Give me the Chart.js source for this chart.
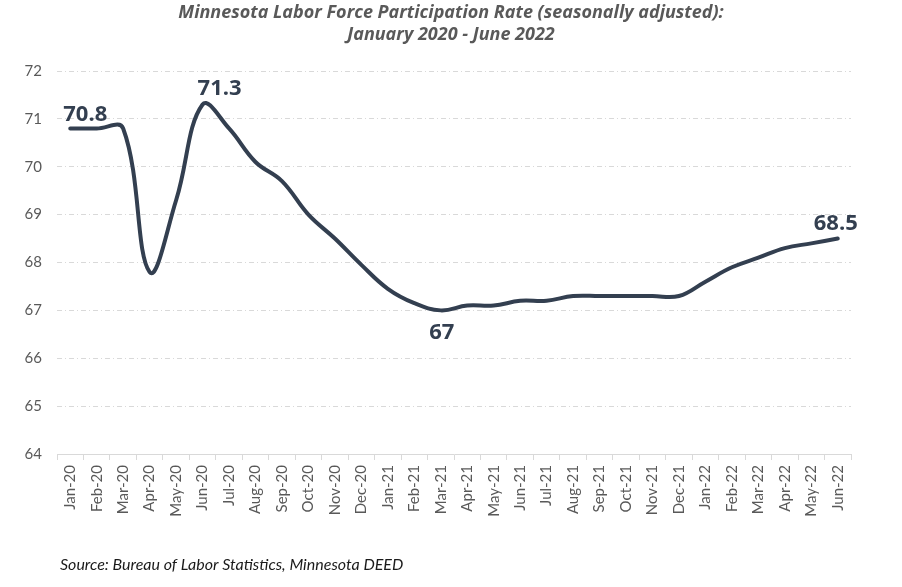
<!DOCTYPE html>
<html>
<head>
<meta charset="utf-8">
<script src="https://cdn.jsdelivr.net/npm/chart.js@4"></script>
<style>
html,body{margin:0;padding:0;background:#fff;}
#wrap{width:902px;height:587px;position:relative;}
</style>
</head>
<body>
<div id="wrap"><canvas id="c" width="902" height="587"></canvas></div>
<script>
const categories = ["Jan-20","Feb-20","Mar-20","Apr-20","May-20","Jun-20","Jul-20","Aug-20","Sep-20","Oct-20","Nov-20","Dec-20",
  "Jan-21","Feb-21","Mar-21","Apr-21","May-21","Jun-21","Jul-21","Aug-21","Sep-21","Oct-21","Nov-21","Dec-21",
  "Jan-22","Feb-22","Mar-22","Apr-22","May-22","Jun-22"];
const participationRate = [70.8,70.8,70.8,67.8,69.3,71.3,70.8,70.1,69.7,69.0,68.5,67.95,
  67.45,67.15,67.0,67.1,67.1,67.2,67.2,67.3,67.3,67.3,67.3,67.3,
  67.6,67.9,68.1,68.3,68.4,68.5];
const yTicks = [64,65,66,67,68,69,70,71,72];
const labeledIdx = [0,5,14,29];
const titleLines = ["Minnesota Labor Force Participation Rate (seasonally adjusted):","January 2020 - June 2022"];
const sourceText = "Source: Bureau of Labor Statistics, Minnesota DEED";

const labelOffsets = {0:[15,-7],5:[17,-10],14:[1,29],29:[-2,-9]};
const FONT = "Lato, 'Open Sans', sans-serif";
const BOLDFONT = "'Open Sans', sans-serif";

const textPlugin = {
  id:'texts',
  afterDatasetsDraw(chart){
    const ctx = chart.ctx;
    const meta = chart.getDatasetMeta(0);
    ctx.save();
    ctx.fillStyle = '#333f50';
    ctx.font = "bold 22px " + BOLDFONT;
    ctx.textAlign = 'center';
    ctx.textBaseline = 'alphabetic';
    labeledIdx.forEach(i=>{
      const p = meta.data[i];
      const o = labelOffsets[i];
      ctx.fillText(String(chart.data.datasets[0].data[i]), p.x + o[0], p.y + o[1]);
    });
    ctx.restore();
  },
  afterDraw(chart){
    const ctx = chart.ctx;
    ctx.save();
    ctx.fillStyle = '#595959';
    ctx.font = "italic bold 18px " + BOLDFONT;
    ctx.textAlign = 'center';
    ctx.fillText(titleLines[0], 451, 18);
    ctx.fillText(titleLines[1], 451, 40);
    ctx.fillStyle = '#1a1a1a';
    ctx.font = "italic 16px " + FONT;
    ctx.textAlign = 'left';
    ctx.fillText(sourceText, 60, 570);
    ctx.restore();
  }
};

new Chart(document.getElementById('c'), {
  type:'line',
  data:{
    labels: categories,
    datasets:[{
      data: participationRate,
      borderColor:'#333f50',
      borderWidth:4,
      pointRadius:0,
      tension:0.4,
      fill:false,
      borderCapStyle:'round'
    }]
  },
  options:{
    responsive:false,
    animation:false,
    devicePixelRatio:1,
    layout:{padding:{left:0,right:51,top:71,bottom:0}},
    plugins:{legend:{display:false},tooltip:{enabled:false}},
    scales:{
      x:{
        offset:true,
        grid:{offset:true,drawOnChartArea:false,drawTicks:true,tickLength:6,color:'#d9d9d9'},
        border:{display:true,color:'#d9d9d9',width:1},
        ticks:{minRotation:90,maxRotation:90,autoSkip:false,padding:5,color:'#595959',font:{family:FONT,size:15}},
        afterFit(s){ s.height = 133; }
      },
      y:{
        min:64,max:72,
        afterBuildTicks(s){ s.ticks = yTicks.map(v=>({value:v})); },
        grid:{drawTicks:false,color:(c)=> c.tick && c.tick.value===64 ? 'rgba(0,0,0,0)' : '#d9d9d9', lineWidth:1},
        border:{display:false,dash:[5,3,1,3]},
        ticks:{padding:15,color:'#595959',font:{family:FONT,size:15}},
        afterFit(s){ s.width = 57; }
      }
    }
  },
  plugins:[textPlugin]
});
</script>
</body>
</html>
